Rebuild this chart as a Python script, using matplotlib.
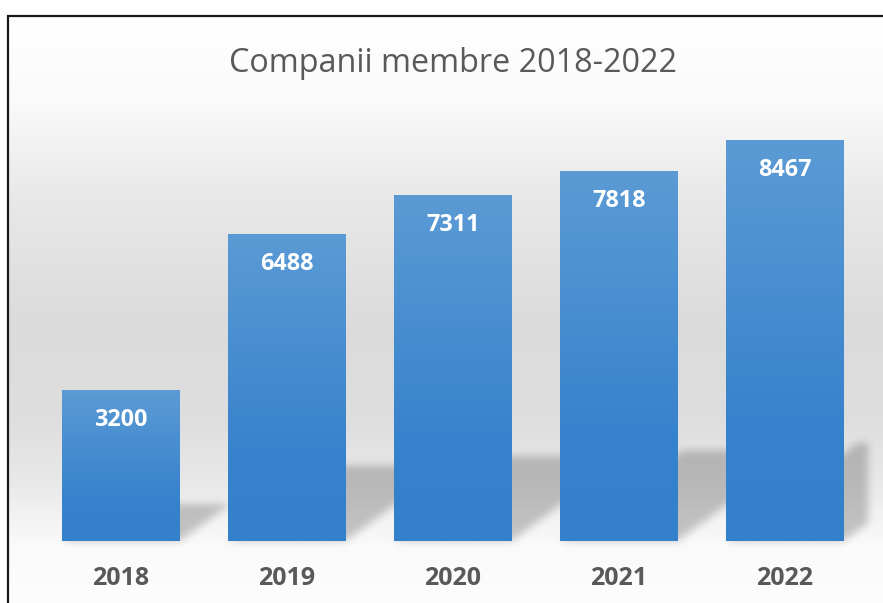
import numpy as np
import matplotlib
matplotlib.use("Agg")
import matplotlib.pyplot as plt
from matplotlib.patches import Polygon, Rectangle

# ---- data ----
years = ["2018", "2019", "2020", "2021", "2022"]
members = [3200, 6488, 7311, 7818, 8467]
title = "Companii membre 2018-2022"

plt.rcParams['font.family'] = ['Open Sans', 'DejaVu Sans']

W, H, DPI = 883, 603, 100
fig = plt.figure(figsize=(W / DPI, H / DPI), dpi=DPI)
fig.patch.set_facecolor("white")


def px(x0, y0, x1, y1):
    return [x0 / W, 1 - y1 / H, (x1 - x0) / W, (y1 - y0) / H]


# ---- background gradient inside frame ----
bg = fig.add_axes(px(8, 16, W, H), zorder=0)
rows = np.arange(16, H)
stops_y = [16, 100, 200, 320, 420, 480, 520, 545, 603]
stops_v = [255, 250, 232, 219, 222, 232, 243, 250, 253]
g = np.interp(rows, stops_y, stops_v) / 255.0
col = np.repeat(g[:, None], 2, axis=1)
bg.imshow(np.dstack([col, col, col]), aspect='auto', extent=[0, 1, 0, 1],
          interpolation='bilinear')
bg.axis('off')

frame = Rectangle((8 / W, -0.1), 1.2, (1 - 16 / H) + 0.1, transform=fig.transFigure,
                  fill=False, edgecolor='#1a1a1a', lw=1.6, zorder=10)
fig.patches.append(frame)

# ---- main axes ----
ax = fig.add_axes(px(38, 115, 867.5, 541), zorder=1)
ax.patch.set_alpha(0)
for s in ax.spines.values():
    s.set_visible(False)

x = np.arange(len(years))
bw = 0.711
bars = ax.bar(x, members, width=bw, color='#3d85cd', zorder=3)
ax.set_xlim(-0.5, len(years) - 0.5)
ax.set_ylim(0, 9000)
ax.set_yticks([])


# blur filter for shadows
def blur_filter(sigma_px, alpha):
    def f(im, dpi):
        r = int(3 * sigma_px) + 1
        a = np.pad(im[:, :, 3], r)
        t = np.arange(-r, r + 1)
        kern = np.exp(-t ** 2 / (2 * sigma_px ** 2))
        kern /= kern.sum()
        a = np.apply_along_axis(lambda v: np.convolve(v, kern, mode='same'), 0, a)
        a = np.apply_along_axis(lambda v: np.convolve(v, kern, mode='same'), 1, a)
        out = np.zeros(a.shape + (4,))
        out[..., 3] = np.clip(a * alpha, 0, 1)
        return out, -r, -r
    return f


# pixel scale per data unit
p0 = ax.transData.transform((0, 0))
p1 = ax.transData.transform((1, 1000))
xpx = p1[0] - p0[0]
ypx = (p1[1] - p0[1]) / 1000.0

k = 0.245
skew = 1.35
for xi, v in zip(x, members):
    x0, x1 = xi - bw / 2, xi + bw / 2
    sh = k * v
    dx = skew * sh * ypx / xpx
    poly = Polygon([(x0, 0), (x1, 0), (x1 + dx, sh), (x0 + dx, sh)],
                   closed=True, facecolor='black', edgecolor='none', zorder=2)
    ax.add_patch(poly)
    poly.set_agg_filter(blur_filter(4.0, 0.21))

# gradient fill on bars
top = np.array([91, 155, 213]) / 255
mid = np.array([54, 130, 204]) / 255
bot = np.array([52, 128, 203]) / 255
n = 200
tt = np.linspace(0, 1, n)
grad = np.zeros((n, 1, 3))
for c in range(3):
    grad[:, 0, c] = np.interp(tt, [0, 0.72, 1], [top[c], mid[c], bot[c]])

for b, v in zip(bars, members):
    x0 = b.get_x()
    im = ax.imshow(grad, extent=[x0, x0 + b.get_width(), 0, v], aspect='auto',
                   interpolation='bilinear', zorder=4)
    im.set_clip_path(b)

ax.set_xlim(-0.5, len(years) - 0.5)
ax.set_ylim(0, 9000)
ax.set_aspect('auto')

# value labels
for xi, v in zip(x, members):
    ax.annotate(str(v), (xi, v), xytext=(0, -30), textcoords='offset pixels',
                ha='center', va='center', color='white', fontweight='bold',
                fontsize=16.8, zorder=6)

ax.set_xticks(x)
ax.set_xticklabels(years, fontweight='bold', fontsize=18, color='#595959')
ax.tick_params(axis='x', length=0, pad=18)

fig.text(452.7 / W, 1 - 72 / H, title, ha='center', va='baseline',
         fontsize=23.3, color='#595959')

fig.savefig("out.png", dpi=DPI)
